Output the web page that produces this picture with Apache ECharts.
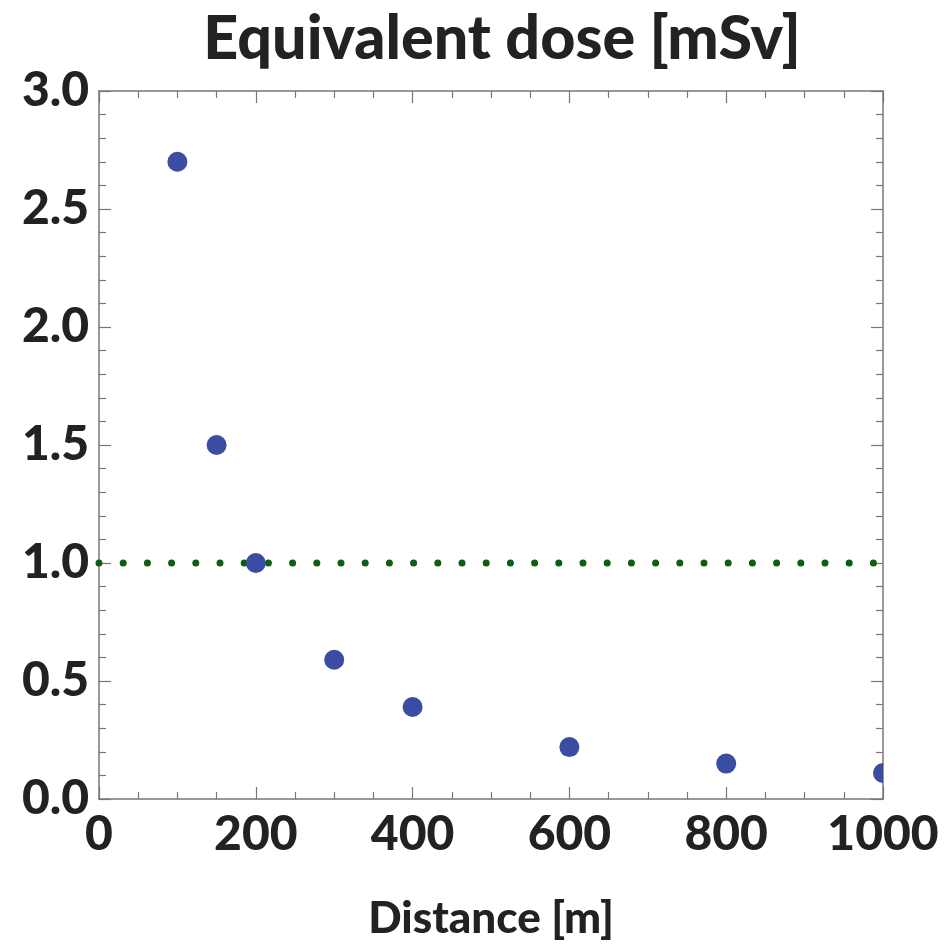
<!DOCTYPE html>
<html>
<head>
<meta charset="utf-8">
<script src="https://cdn.jsdelivr.net/npm/echarts@6/dist/echarts.min.js"></script>
<style>
  html, body { margin: 0; padding: 0; background: #fff; }
  #chart { width: 949px; height: 945px; }
</style>
</head>
<body>
<div id="chart"></div>
<script>
// 数据
var distance = [100, 150, 200, 300, 400, 600, 800, 1000];
var dose = [2.7, 1.5, 1.0, 0.59, 0.39, 0.22, 0.15, 0.11];
var limitX = [0, 1000];
var limitY = 1.0;

var myChart = echarts.init(document.getElementById('chart'));

var font = 'Lato';
var frameColor = '#777';

// 轴的公共样式
function frameAxis(showLabel) {
    return {
        axisLine: { show: true, onZero: false, lineStyle: { color: frameColor, width: 1.5 } },
        axisTick: { show: true, inside: true, length: 12, lineStyle: { color: frameColor, width: 1.2 } },
        minorTick: { show: true, length: 7, lineStyle: { color: frameColor, width: 1.2 } },
        splitLine: { show: false },
        axisLabel: {
            show: showLabel,
            color: '#222',
            fontFamily: font,
            fontWeight: 900,
            fontSize: 48
        }
    };
}

var xBottom = frameAxis(true);
xBottom.type = 'value';
xBottom.position = 'bottom';
xBottom.min = 0;
xBottom.max = 1000;
xBottom.interval = 200;
xBottom.minorTick.splitNumber = 4;
xBottom.axisLabel.margin = 12;
xBottom.axisLabel.formatter = function (v) { return String(v); };
xBottom.name = 'Distance [m]';
xBottom.nameLocation = 'middle';
xBottom.nameGap = 98;
xBottom.nameTextStyle = { color: '#222', fontFamily: font, fontWeight: 900, fontSize: 44 };

var xTop = frameAxis(false);
xTop.type = 'value';
xTop.position = 'top';
xTop.min = 0;
xTop.max = 1000;
xTop.interval = 200;
xTop.minorTick.splitNumber = 4;

var yLeft = frameAxis(true);
yLeft.type = 'value';
yLeft.position = 'left';
yLeft.min = 0;
yLeft.max = 3;
yLeft.interval = 0.5;
yLeft.minorTick.splitNumber = 5;
yLeft.axisLabel.margin = 10;
yLeft.axisLabel.formatter = function (v) { return v.toFixed(1); };

var yRight = frameAxis(false);
yRight.type = 'value';
yRight.position = 'right';
yRight.min = 0;
yRight.max = 3;
yRight.interval = 0.5;
yRight.minorTick.splitNumber = 5;

var option = {
    backgroundColor: '#fff',
    title: {
        text: 'Equivalent dose [mSv]',
        left: 497,
        textAlign: 'center',
        top: 4,
        textStyle: { color: '#222', fontFamily: font, fontWeight: 900, fontSize: 61 }
    },
    grid: { left: 99, right: 66, top: 91, bottom: 146, outerBoundsMode: 'none', containLabel: false },
    xAxis: [xBottom, xTop],
    yAxis: [yLeft, yRight],
    series: [
        {
            type: 'line',
            xAxisIndex: 0,
            yAxisIndex: 0,
            data: limitX.map(function (x) { return [x, limitY]; }),
            symbol: 'none',
            lineStyle: { color: '#0b5e14', width: 7, type: [0, 24.2], cap: 'round' },
            silent: true,
            z: 1
        },
        {
            // 用custom画点, 这样边上的点会被裁掉一半
            type: 'custom',
            xAxisIndex: 0,
            yAxisIndex: 0,
            data: distance.map(function (x, i) { return [x, dose[i]]; }),
            clip: true,
            z: 2,
            renderItem: function (params, api) {
                var p = api.coord([api.value(0), api.value(1)]);
                return {
                    type: 'circle',
                    shape: { cx: p[0], cy: p[1], r: 10 },
                    style: { fill: '#3a4da3' }
                };
            }
        }
    ]
};

myChart.setOption(option);
</script>
</body>
</html>
